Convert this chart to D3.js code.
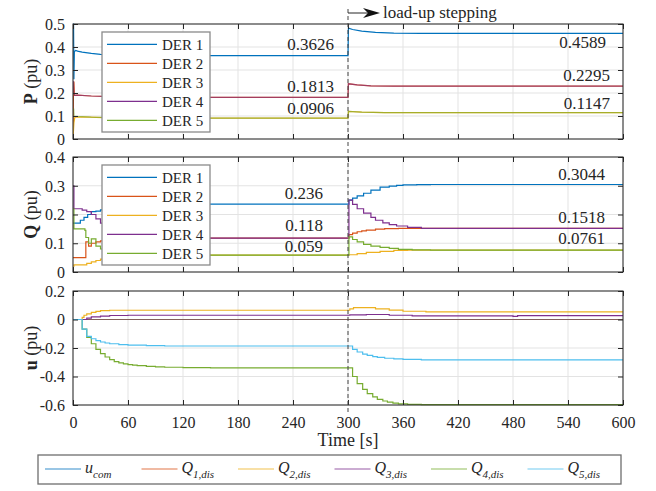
<!DOCTYPE HTML>
<html>
<head>
<meta charset="UTF-8">
<title>DER P Q u</title>
<script src="https://d3js.org/d3.v7.min.js"></script>
<style>
  body { margin: 0; background: white; }
  svg { display: block; }
  svg text { font-family: "Times New Roman", "Liberation Serif", Tinos, "DejaVu Serif", serif !important; fill: #262626; }
</style>
</head>
<body>
<svg width="656" height="491"></svg>
<script>
// ---- data (time [s], value [pu]) ----
const derNames = ["DER 1", "DER 2", "DER 3", "DER 4", "DER 5"];
const colors = ["#0072BD", "#D95319", "#EDB120", "#7E2F8E", "#77AC30", "#4DBEEE"];

const xTicks = [0, 60, 120, 180, 240, 300, 360, 420, 480, 540, 600];
const pTicks = [0, 0.1, 0.2, 0.3, 0.4, 0.5];
const qTicks = [0, 0.1, 0.2, 0.3, 0.4];
const uTicks = [-0.6, -0.4, -0.2, 0, 0.2];

const P1 = [[0,0.5],[0.6,0.5],[1,0.26],[1.5,0.38],[3,0.385],[5,0.382],[10,0.378],[20,0.372],[30,0.368],[45,0.365],[60,0.3635],[90,0.3628],[120,0.3626],[300,0.3626],
            [300.5,0.482],[305,0.476],[315,0.469],[330,0.464],[350,0.4605],[380,0.4592],[420,0.4589],[600,0.4589]];
const P2 = [[0,0],[0.5,0.2],[1,0.25],[1.5,0.19],[5,0.191],[20,0.187],[40,0.184],[70,0.182],[120,0.1813],[300,0.1813],
            [300.5,0.24],[310,0.235],[325,0.231],[350,0.2297],[420,0.2295],[600,0.2295]];
const P3 = [[0,0],[1,0.07],[2,0.095],[10,0.096],[40,0.092],[100,0.0906],[300,0.0906],
            [300.5,0.12],[315,0.117],[340,0.115],[400,0.1147],[600,0.1147]];
const P4 = [[0,0.25],[0.5,0.25],[1,0.2],[1.5,0.19],[5,0.191],[20,0.187],[40,0.184],[70,0.182],[120,0.1813],[300,0.1813],
            [300.5,0.24],[310,0.235],[325,0.231],[350,0.2297],[420,0.2295],[600,0.2295]];
const P5 = [[0,0.13],[0.8,0.13],[1.2,0.1],[5,0.098],[20,0.095],[60,0.091],[100,0.0906],[300,0.0906],
            [300.5,0.12],[315,0.117],[340,0.115],[400,0.1147],[600,0.1147]];

const Q1 = [[0,0.17],[8,0.18],[12,0.19],[16,0.2],[20,0.21],[25,0.212],[30,0.216],[35,0.22],[40,0.224],[50,0.228],[60,0.231],[70,0.233],[80,0.235],[100,0.236],
            [301,0.25],[305,0.257],[310,0.265],[317,0.274],[325,0.285],[335,0.295],[345,0.299],[353,0.301],[360,0.303],[375,0.304],[390,0.3044],[600,0.3044]];
const Q2 = [[0,0.05],[14,0.105],[17,0.09],[20,0.1],[25,0.105],[30,0.108],[40,0.112],[60,0.116],[100,0.118],
            [301,0.13],[305,0.135],[310,0.14],[315,0.143],[320,0.146],[330,0.149],[340,0.151],[355,0.1518],[600,0.1518]];
const Q3 = [[0,0.02],[1,0.025],[15,0.03],[20,0.035],[25,0.04],[30,0.045],[40,0.05],[60,0.055],[80,0.058],[100,0.059],
            [301,0.06],[310,0.064],[320,0.068],[335,0.072],[350,0.075],[365,0.076],[600,0.0761]];
const Q4 = [[0,0.3],[1,0.22],[10,0.215],[15,0.21],[20,0.2],[25,0.185],[30,0.17],[35,0.16],[40,0.15],[50,0.138],[60,0.13],[70,0.125],[80,0.122],[100,0.119],[120,0.118],
            [301,0.25],[305,0.235],[310,0.22],[317,0.205],[325,0.19],[330,0.18],[338,0.171],[345,0.165],[353,0.16],[365,0.155],[380,0.152],[600,0.1518]];
const Q5 = [[0,0.22],[1,0.15],[13,0.145],[14,0.12],[17,0.1],[20,0.115],[25,0.09],[30,0.08],[40,0.072],[60,0.065],[80,0.061],[100,0.059],
            [301,0.122],[305,0.113],[310,0.105],[317,0.096],[325,0.09],[335,0.086],[345,0.082],[355,0.079],[370,0.077],[390,0.0761],[600,0.0761]];

const uCom = [[0,0],[600,0]];
const uQ1 = [[0,0],[600,0]];
const uQ2 = [[0,0],[10,0.015],[12,0.03],[15,0.04],[20,0.05],[25,0.057],[30,0.062],[40,0.065],
             [302,0.075],[306,0.084],[315,0.084],[330,0.075],[345,0.066],[360,0.058],[385,0.054],[600,0.054]];
const uQ3 = [[0,0],[10,0],[15,0.01],[20,0.018],[30,0.024],[40,0.028],[60,0.03],
             [302,0.033],[320,0.035],[345,0.03],[370,0.025],[480,0.022],[485,0.027],[600,0.026]];
const uQ4 = [[0,0],[10,-0.068],[15,-0.126],[20,-0.17],[25,-0.21],[30,-0.24],[35,-0.263],[40,-0.282],[45,-0.295],[50,-0.304],[55,-0.311],[60,-0.316],[65,-0.32],[70,-0.324],[80,-0.329],[90,-0.333],[100,-0.335],[120,-0.338],[150,-0.34],
             [305,-0.4],[310,-0.45],[316,-0.49],[321,-0.52],[327,-0.543],[332,-0.56],[338,-0.572],[343,-0.58],[349,-0.587],[355,-0.592],[365,-0.595],[380,-0.597],[600,-0.597]];
const uQ5 = [[0,0],[10,-0.068],[15,-0.118],[20,-0.135],[25,-0.148],[30,-0.158],[35,-0.165],[40,-0.17],[50,-0.176],[60,-0.18],[80,-0.184],[100,-0.186],
             [305,-0.21],[310,-0.228],[316,-0.243],[321,-0.252],[327,-0.26],[332,-0.266],[340,-0.272],[350,-0.277],[360,-0.28],[380,-0.284],[600,-0.284]];

const pLabels = [{t:284.7, v:0.386, s:"0.3626"}, {t:284.7, v:0.206, s:"0.1813"}, {t:284.7, v:0.11, s:"0.0906"},
                 {t:581.5, v:0.395, s:"0.4589"}, {t:585.8, v:0.254, s:"0.2295"}, {t:585.8, v:0.132, s:"0.1147"}];
const qLabels = [{t:272.7, v:0.254, s:"0.236"}, {t:272.7, v:0.143, s:"0.118"}, {t:272.7, v:0.071, s:"0.059"},
                 {t:580.4, v:0.32, s:"0.3044"}, {t:580.4, v:0.171, s:"0.1518"}, {t:580.4, v:0.097, s:"0.0761"}];
const bottomLegend = [["u","com"],["Q","1,dis"],["Q","2,dis"],["Q","3,dis"],["Q","4,dis"],["Q","5,dis"]];

// ---- layout ----
const left = 73, right = 623;
const yFmt = d => d === 0 ? "0" : d.toFixed(1);
const panels = [
  {top: 24, bottom: 139, domain: [0, 0.5], ticks: pTicks, label: "P", series: [P1, P2, P3, P4, P5], step: false, labels: pLabels},
  {top: 157, bottom: 272, domain: [0, 0.4], ticks: qTicks, label: "Q", series: [Q1, Q2, Q3, Q4, Q5], step: true, labels: qLabels},
  {top: 291, bottom: 405, domain: [-0.6, 0.2], ticks: uTicks, label: "u", series: [uCom, uQ1, uQ2, uQ3, uQ4, uQ5], step: true, labels: []}
];

const svg = d3.select("svg");
const x = d3.scaleLinear().domain([0, 600]).range([left, right]);
const tickFont = 16;

panels.forEach((p, k) => {
  const y = d3.scaleLinear().domain(p.domain).range([p.bottom, p.top]);
  const g = svg.append("g");

  // grid
  g.selectAll(".gx").data(xTicks).enter().append("line")
    .attr("x1", d => x(d)).attr("x2", d => x(d))
    .attr("y1", p.top).attr("y2", p.bottom)
    .attr("stroke", "#e3e3e3").attr("stroke-width", 1);
  g.selectAll(".gy").data(p.ticks).enter().append("line")
    .attr("x1", left).attr("x2", right)
    .attr("y1", d => y(d)).attr("y2", d => y(d))
    .attr("stroke", "#e3e3e3").attr("stroke-width", 1);

  // clip
  svg.append("clipPath").attr("id", "clip" + k).append("rect")
    .attr("x", left).attr("y", p.top - 1).attr("width", right - left).attr("height", p.bottom - p.top + 2);

  const line = d3.line().x(d => x(d[0])).y(d => y(d[1]))
    .curve(p.step ? d3.curveStepAfter : d3.curveLinear);
  const lines = g.append("g").attr("clip-path", "url(#clip" + k + ")");
  p.series.forEach((s, i) => {
    lines.append("path").datum(s)
      .attr("d", line)
      .attr("fill", "none")
      .attr("stroke", colors[i])
      .attr("stroke-width", 1.2)
      .attr("stroke-opacity", (k === 0 && (i === 3 || i === 4)) || (k === 2 && i === 1) ? 0.6 : 1);
  });

  // axes: ticks inside, on all four sides
  const tl = 5;
  g.append("g").attr("transform", `translate(0,${p.bottom})`)
    .call(d3.axisBottom(x).tickValues(xTicks).tickSize(-tl).tickFormat(k === 2 ? d3.format("d") : ""))
    .call(a => { a.select(".domain").remove(); a.selectAll("text").attr("dy", "0").attr("y", 23); });
  g.append("g").attr("transform", `translate(0,${p.top})`)
    .call(d3.axisTop(x).tickValues(xTicks).tickSize(-tl).tickFormat(""))
    .call(a => a.select(".domain").remove());
  g.append("g").attr("transform", `translate(${left},0)`)
    .call(d3.axisLeft(y).tickValues(p.ticks).tickSize(-tl).tickFormat(yFmt))
    .call(a => { a.select(".domain").remove(); a.selectAll("text").attr("x", -8).attr("dy", "0.33em"); });
  g.append("g").attr("transform", `translate(${right},0)`)
    .call(d3.axisRight(y).tickValues(p.ticks).tickSize(-tl).tickFormat(""))
    .call(a => a.select(".domain").remove());
  g.selectAll(".tick line").attr("stroke", "#262626");
  g.selectAll(".tick text").attr("font-size", tickFont).attr("fill", "#262626");

  g.append("rect").attr("x", left).attr("y", p.top)
    .attr("width", right - left).attr("height", p.bottom - p.top)
    .attr("fill", "none").attr("stroke", "#262626").attr("stroke-width", 1);

  // y label
  const yl = g.append("text")
    .attr("transform", `translate(37,${(p.top + p.bottom) / 2}) rotate(-90)`)
    .attr("text-anchor", "middle").attr("font-size", 18);
  yl.append("tspan").attr("font-weight", "bold").text(p.label);
  yl.append("tspan").text(" (pu)");

  // value labels
  g.selectAll(".vl").data(p.labels).enter().append("text")
    .attr("x", d => x(d.t)).attr("y", d => y(d.v))
    .attr("text-anchor", "end").attr("font-size", 17)
    .text(d => d.s);

  // inner legend
  if (k < 2) {
    const lx = 102, ly = k === 0 ? 32 : 165, lw = 108, lh = 100;
    const lg = g.append("g");
    lg.append("rect").attr("x", lx).attr("y", ly).attr("width", lw).attr("height", lh)
      .attr("fill", "white").attr("stroke", "#8a8a8a").attr("stroke-width", 1.3);
    derNames.forEach((n, i) => {
      const ry = ly + 12.3 + i * 19;
      lg.append("line").attr("x1", lx + 5).attr("x2", lx + 55).attr("y1", ry).attr("y2", ry)
        .attr("stroke", colors[i]).attr("stroke-width", 1.2);
      lg.append("text").attr("x", lx + 60).attr("y", ry + 5.5).attr("font-size", 15).text(n);
    });
  }
});

// dashed event line
svg.append("line").attr("x1", x(300)).attr("x2", x(300)).attr("y1", 9).attr("y2", 412)
  .attr("stroke", "#444").attr("stroke-width", 1).attr("stroke-dasharray", "4,3");

// arrow + annotation
const ay = 13;
svg.append("line").attr("x1", x(300)).attr("x2", x(300) + 22).attr("y1", ay).attr("y2", ay)
  .attr("stroke", "#262626").attr("stroke-width", 1);
svg.append("path")
  .attr("d", `M${x(300) + 32},${ay} L${x(300) + 15},${ay - 5} L${x(300) + 20},${ay} L${x(300) + 15},${ay + 5} Z`)
  .attr("fill", "#111");
svg.append("text").attr("x", x(300) + 35).attr("y", ay + 5).attr("font-size", 17).text("load-up stepping");

// x label
svg.append("text").attr("x", x(300)).attr("y", 446).attr("text-anchor", "middle")
  .attr("font-size", 18).text("Time [s]");

// bottom legend
const bl = svg.append("g");
bl.append("rect").attr("x", 38).attr("y", 455).attr("width", 583).attr("height", 29)
  .attr("fill", "white").attr("stroke", "#6e6e6e").attr("stroke-width", 1.3);
bottomLegend.forEach((d, i) => {
  const bx = 45 + i * 96.5, by = 469;
  bl.append("line").attr("x1", bx).attr("x2", bx + 36).attr("y1", by).attr("y2", by)
    .attr("stroke", colors[i]).attr("stroke-width", 1.2).attr("stroke-opacity", 0.8);
  const t = bl.append("text").attr("x", bx + 40).attr("y", by + 4).attr("font-size", 16).attr("font-style", "italic");
  t.append("tspan").text(d[0]);
  t.append("tspan").attr("font-size", 11).attr("dy", 5).text(d[1]);
});
</script>
</body>
</html>
